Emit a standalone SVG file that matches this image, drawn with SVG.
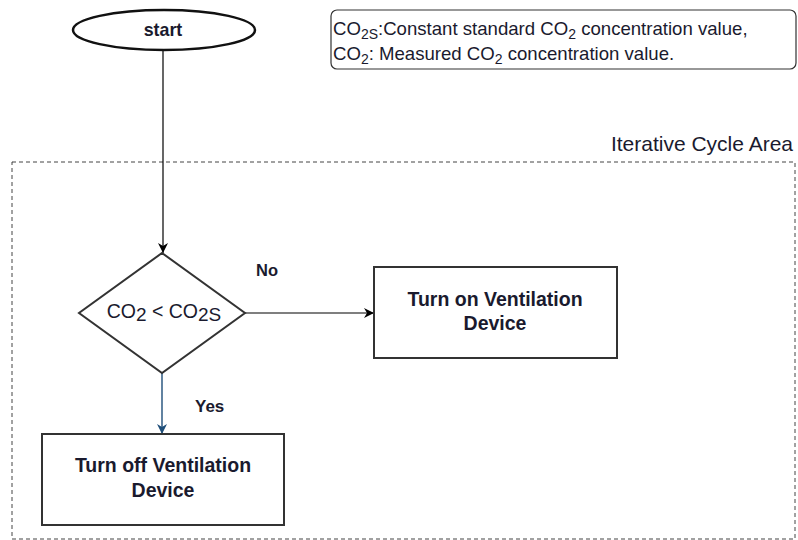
<svg xmlns="http://www.w3.org/2000/svg" width="798" height="540" viewBox="0 0 798 540">
<style>
.shape{fill:#fff;stroke:#333;stroke-width:2}
.edge{fill:none;stroke:#000;stroke-width:1.2}
.t{font-family:"Liberation Sans",Arial,sans-serif;fill:#1a1a2e}
.b{font-weight:bold;font-size:19.5px;text-anchor:middle}
</style>
<defs>
<marker id="ah" markerWidth="12" markerHeight="12" refX="10" refY="6" orient="auto" markerUnits="userSpaceOnUse">
<path d="M0,1 L10,6 L0,11 L3,6 Z" fill="#000"/>
</marker>
<marker id="ahb" markerWidth="12" markerHeight="12" refX="10" refY="6" orient="auto" markerUnits="userSpaceOnUse">
<path d="M0,1 L10,6 L0,11 L3,6 Z" fill="#1f4e79"/>
</marker>
</defs>
<g id="area">
<rect x="12" y="162" width="783" height="377" fill="none" stroke="#444" stroke-width="1" stroke-dasharray="4 3"/>
<text class="t" x="793" y="151" font-size="21" text-anchor="end">Iterative Cycle Area</text>
</g>
<g id="legend">
<rect x="331" y="10" width="465" height="59" rx="6" fill="#fff" stroke="#333" stroke-width="1.2"/>
<text class="t" x="333" y="35" font-size="18.6">CO<tspan font-size="14" dy="4">2S</tspan><tspan dy="-4">:Constant standard CO</tspan><tspan font-size="14" dy="4">2</tspan><tspan dy="-4"> concentration value,</tspan></text>
<text class="t" x="333" y="60" font-size="18.6">CO<tspan font-size="14" dy="4">2</tspan><tspan dy="-4">: Measured CO</tspan><tspan font-size="14" dy="4">2</tspan><tspan dy="-4"> concentration value.</tspan></text>
</g>
<g id="connectors">
<line class="edge" x1="163" y1="50" x2="163" y2="253" marker-end="url(#ah)"/>
<line class="edge" x1="245" y1="313" x2="374" y2="313" marker-end="url(#ah)"/>
<line x1="162" y1="373" x2="162" y2="434" stroke="#1f4e79" stroke-width="1.4" marker-end="url(#ahb)"/>
<text class="t" x="256" y="276" font-size="16.5" font-weight="bold" font-family="'Open Sans',sans-serif">No</text>
<text class="t" x="195" y="412" font-size="17" font-weight="bold">Yes</text>
</g>
<g id="start">
<ellipse cx="164" cy="30" rx="91" ry="20" fill="#fff" stroke="#111" stroke-width="2.5"/>
<text class="t b" x="163" y="36" style="font-size:17.8px">start</text>
</g>
<g id="decision">
<polygon class="shape" points="162,253 245,313 162,373 79,313" stroke-width="1.5"/>
<text class="t" x="164" y="318" font-size="19.5" text-anchor="middle" font-family="'Open Sans',sans-serif">CO<tspan font-size="19" dy="3">2</tspan><tspan dy="-3"> &lt; CO</tspan><tspan font-size="19" dy="3">2S</tspan></text>
</g>
<g id="turn-on">
<rect class="shape" x="374" y="267" width="243" height="91"/>
<text class="t b" x="495" y="306">Turn on Ventilation</text>
<text class="t b" x="495" y="330">Device</text>
</g>
<g id="turn-off">
<rect class="shape" x="42" y="434" width="242" height="91"/>
<text class="t b" x="163" y="472">Turn off Ventilation</text>
<text class="t b" x="163" y="497">Device</text>
</g>
</svg>
